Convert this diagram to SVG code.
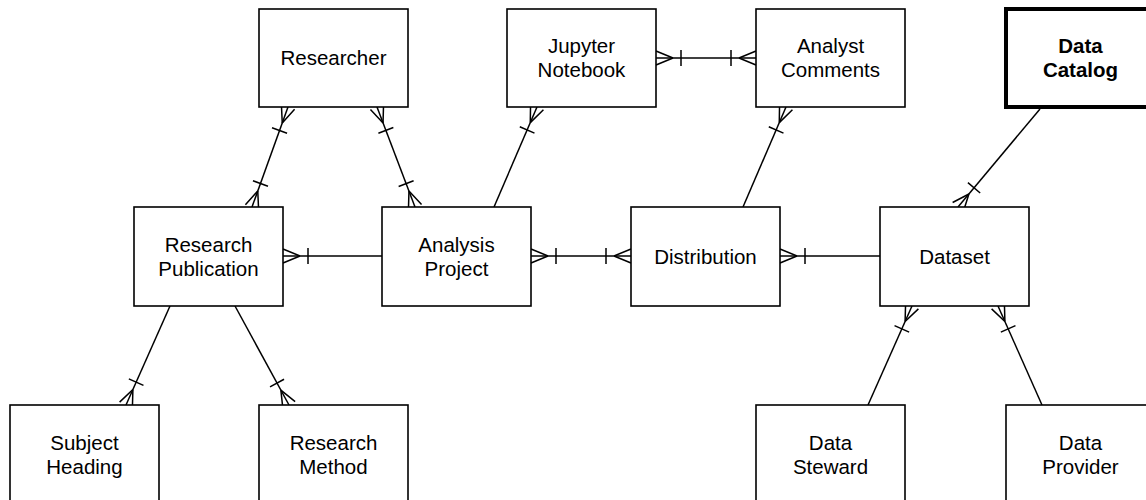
<svg xmlns="http://www.w3.org/2000/svg" width="1146" height="500" viewBox="0 0 1146 500">
<style>
.box{fill:#fff;stroke:#000;stroke-width:1.6}
.bold{fill:#fff;stroke:#000;stroke-width:4}
text{font-family:"Liberation Sans",Arial,sans-serif;font-size:20.5px;fill:#000;text-anchor:middle}
.b{font-weight:bold}
.conn{fill:none;stroke:#000;stroke-width:1.5}
</style>
<defs>
<marker id="many" markerUnits="userSpaceOnUse" viewBox="-30 -10 32 20" markerWidth="32" markerHeight="20" refX="0" refY="0" orient="auto-start-reverse" overflow="visible">
<path d="M-17 0L0-7M-17 0L0 7M-25-8L-25 8" fill="none" stroke="#000" stroke-width="1.5"/>
</marker>
</defs>
<rect width="1146" height="500" fill="#fff"/>
<g id="connectors">
<path class="conn" d="M288 107L252 207" marker-start="url(#many)" marker-end="url(#many)"/>
<path class="conn" d="M377 107L415 207" marker-start="url(#many)" marker-end="url(#many)"/>
<path class="conn" d="M283 256L382 256" marker-start="url(#many)"/>
<path class="conn" d="M531 256L631 256" marker-start="url(#many)" marker-end="url(#many)"/>
<path class="conn" d="M780 256L880 256" marker-start="url(#many)"/>
<path class="conn" d="M656 58L756 58" marker-start="url(#many)" marker-end="url(#many)"/>
<path class="conn" d="M537 107L494 207" marker-start="url(#many)"/>
<path class="conn" d="M786 107L743 207" marker-start="url(#many)"/>
<path class="conn" d="M1040 109L958 207" marker-end="url(#many)"/>
<path class="conn" d="M912 306L868 405" marker-start="url(#many)"/>
<path class="conn" d="M998 306L1042 405" marker-start="url(#many)"/>
<path class="conn" d="M170 306L126 405" marker-end="url(#many)"/>
<path class="conn" d="M235 306L289 405" marker-end="url(#many)"/>
</g>
<g id="researcher"><rect class="box" x="259" y="9" width="149" height="98"/><text x="333.5" y="65">Researcher</text></g>
<g id="jupyter-notebook"><rect class="box" x="507" y="9" width="149" height="98"/><text x="581.5" y="53">Jupyter</text><text x="581.5" y="77">Notebook</text></g>
<g id="analyst-comments"><rect class="box" x="756" y="9" width="149" height="98"/><text x="830.5" y="53">Analyst</text><text x="830.5" y="77">Comments</text></g>
<g id="data-catalog"><rect class="bold" x="1006" y="9" width="149" height="98"/><text class="b" x="1080.5" y="53">Data</text><text class="b" x="1080.5" y="77">Catalog</text></g>
<g id="research-publication"><rect class="box" x="134" y="207" width="149" height="99"/><text x="208.5" y="251.5">Research</text><text x="208.5" y="275.5">Publication</text></g>
<g id="analysis-project"><rect class="box" x="382" y="207" width="149" height="99"/><text x="456.5" y="251.5">Analysis</text><text x="456.5" y="275.5">Project</text></g>
<g id="distribution"><rect class="box" x="631" y="207" width="149" height="99"/><text x="705.5" y="263.5">Distribution</text></g>
<g id="dataset"><rect class="box" x="880" y="207" width="149" height="99"/><text x="954.5" y="263.5">Dataset</text></g>
<g id="subject-heading"><rect class="box" x="10" y="405" width="149" height="98"/><text x="84.5" y="449.5">Subject</text><text x="84.5" y="473.5">Heading</text></g>
<g id="research-method"><rect class="box" x="259" y="405" width="149" height="98"/><text x="333.5" y="449.5">Research</text><text x="333.5" y="473.5">Method</text></g>
<g id="data-steward"><rect class="box" x="756" y="405" width="149" height="98"/><text x="830.5" y="449.5">Data</text><text x="830.5" y="473.5">Steward</text></g>
<g id="data-provider"><rect class="box" x="1006" y="405" width="149" height="98"/><text x="1080.5" y="449.5">Data</text><text x="1080.5" y="473.5">Provider</text></g>
</svg>
